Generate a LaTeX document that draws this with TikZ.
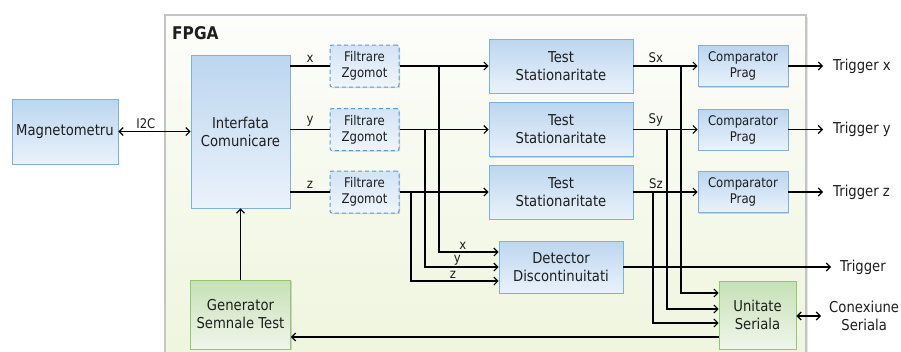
\documentclass[tikz,border=0pt]{standalone}
\usepackage{fontspec}
\setmainfont{DejaVu Sans}[FakeStretch=0.88]
\usetikzlibrary{arrows.meta,shadows,calc}

\definecolor{txt}{HTML}{1E1E1E}
\definecolor{blueTop}{HTML}{BCD6EF}
\definecolor{blueBot}{HTML}{EAF2FB}
\definecolor{blueLine}{HTML}{7EB1E3}
\definecolor{dashLine}{HTML}{5B9BD5}
\definecolor{fltTop}{HTML}{D3E4F5}
\definecolor{fltBot}{HTML}{EFF5FC}
\definecolor{greenTop}{HTML}{C6E1B6}
\definecolor{greenBot}{HTML}{EFF6EB}
\definecolor{greenLine}{HTML}{92C86E}
\definecolor{fpgaTop}{HTML}{FDFDFB}
\definecolor{fpgaBot}{HTML}{EEF5DC}
\definecolor{fpgaLine}{HTML}{C4C4C4}

\newcommand\mainfs{\fontsize{15}{18}\selectfont}
\newcommand\smallfs{\fontsize{13.3}{16}\selectfont}

\tikzset{
  boxshadow/.style={drop shadow={shadow xshift=1.2pt, shadow yshift=-1.2pt, opacity=0.25, fill=black!60}},
  blk/.style={draw=blueLine, line width=0.9pt, top color=blueTop, bottom color=blueBot,
    boxshadow, align=center, inner sep=0pt, font=\mainfs, text=txt},
  flt/.style={draw=dashLine, line width=1pt, dash pattern=on 4pt off 3pt, rounded corners=2pt,
    top color=fltTop, bottom color=fltBot, boxshadow, align=center, inner sep=0pt,
    font=\smallfs, text=txt, minimum width=69pt, minimum height=42pt},
  cmp/.style={blk, font=\smallfs, minimum width=90pt, minimum height=41pt},
  tst/.style={blk, minimum width=144pt, minimum height=54pt},
  grn/.style={draw=greenLine, line width=0.9pt, top color=greenTop, bottom color=greenBot,
    boxshadow, align=center, inner sep=0pt, font=\mainfs, text=txt},
  conn/.style={line width=1.1pt, draw=black},
  tip/.tip={Straight Barb[length=4pt,width=8pt]},
  arr/.style={conn, -tip},
  darr/.style={conn, tip-tip},
  lbl/.style={font=\smallfs, text=txt, inner sep=1.5pt},
  outlbl/.style={font=\mainfs, text=txt, anchor=west, inner ysep=0pt},
}

\begin{document}
\begin{tikzpicture}[x=1pt, y=-1pt]
\useasboundingbox (0,0) rectangle (901,351);
\clip (0,0) rectangle (901,351);

% FPGA region
\path[draw=fpgaLine, line width=1.4pt, top color=fpgaTop, bottom color=fpgaBot,
  drop shadow={shadow xshift=1.5pt, shadow yshift=-1.5pt, opacity=0.2, fill=black!50}]
  (165,15) rectangle (806,370);
\node[font=\bfseries\fontsize{17.5}{20}\selectfont, text=txt, anchor=west, inner sep=0pt] (fpgalbl) at (172,33) {FPGA};

% blocks
\node[blk, minimum width=106pt, minimum height=65pt] (mag) at (65,131.5) {Magnetometru};
\node[blk, minimum width=99pt, minimum height=153pt] (intf) at (240.5,131.5) {Interfata\\Comunicare};
\node[grn, minimum width=100pt, minimum height=69pt] (gen) at (240.5,314.5) {Generator\\Semnale Test};

\node[flt] (f1) at (364.5,66) {Filtrare\\Zgomot};
\node[flt] (f2) at (364.5,129.5) {Filtrare\\Zgomot};
\node[flt] (f3) at (364.5,192) {Filtrare\\Zgomot};

\node[tst] (t1) at (561,66) {Test\\Stationaritate};
\node[tst] (t2) at (561,129.5) {Test\\Stationaritate};
\node[tst] (t3) at (561,192) {Test\\Stationaritate};

\node[cmp] (c1) at (743,66) {Comparator\\Prag};
\node[cmp] (c2) at (743,129.5) {Comparator\\Prag};
\node[cmp] (c3) at (743,192) {Comparator\\Prag};

\node[blk, minimum width=124pt, minimum height=52pt] (det) at (561,267) {Detector\\Discontinuitati};
\node[grn, minimum width=77pt, minimum height=68pt] (ser) at (757.5,315) {Unitate\\Seriala};

% outputs
\node[outlbl, inner xsep=10pt] (trgx) at (823,66) {Trigger x};
\node[outlbl, inner xsep=10pt] (trgy) at (823,129.5) {Trigger y};
\node[outlbl, inner xsep=10pt] (trgz) at (823,192) {Trigger z};
\node[outlbl, inner xsep=9pt] (trg) at (831,267) {Trigger};
\node[font=\mainfs, text=txt, align=center, anchor=west, inner xsep=8pt, inner ysep=0pt] (conx) at (821,316) {Conexiune\\Seriala};

% magnetometer link
\draw[darr] (mag.east) -- (mag.east -| intf.west) node[lbl, pos=0.38, above=1pt] {I2C};

% interface to filters
\draw[conn] (f1.west -| intf.east) -- (f1.west) node[lbl, midway, above=1pt] {x};
\draw[conn] (f2.west -| intf.east) -- (f2.west) node[lbl, midway, above=1pt] {y};
\draw[conn] (f3.west -| intf.east) -- (f3.west) node[lbl, midway, above=1pt] {z};

% filters to stationarity tests
\draw[arr] (f1.east) -- (t1.west);
\draw[arr] (f2.east) -- (t2.west);
\draw[arr] (f3.east) -- (t3.west);

% branches to discontinuity detector
\coordinate (bx) at (439,66);
\coordinate (by) at (425,129.5);
\coordinate (bz) at (411,192);
\coordinate (dinx) at ($(det.west)+(0,-15)$);
\coordinate (diny) at (det.west);
\coordinate (dinz) at ($(det.west)+(0,14)$);
\draw[arr] (bx) |- (dinx) node[lbl, pos=0.7, above=0pt] {x};
\draw[arr] (by) |- (diny) node[lbl, pos=0.72, above=0pt] {y};
\draw[arr] (bz) |- (dinz) node[lbl, pos=0.74, above=0pt] {z};

% tests to comparators
\draw[arr] (t1.east) -- (c1.west) node[lbl, pos=0.35, above=1pt] {Sx};
\draw[arr] (t2.east) -- (c2.west) node[lbl, pos=0.35, above=1pt] {Sy};
\draw[arr] (t3.east) -- (c3.west) node[lbl, pos=0.35, above=1pt] {Sz};

% comparator outputs
\draw[arr] (c1.east) -- (trgx.west);
\draw[arr] (c2.east) -- (trgy.west);
\draw[arr] (c3.east) -- (trgz.west);
\draw[arr] (det.east) -- (trg.west);

% branches to the serial unit
\coordinate (sx) at (681,66);
\coordinate (sy) at (667,129.5);
\coordinate (sz) at (653,192);
\coordinate (sin1) at ($(ser.west)+(0,-22)$);
\coordinate (sin2) at ($(ser.west)+(0,-6)$);
\coordinate (sin3) at ($(ser.west)+(0,8)$);
\coordinate (sout) at ($(ser.west)+(0,22)$);
\draw[arr] (sx) |- (sin1);
\draw[arr] (sy) |- (sin2);
\draw[arr] (sz) |- (sin3);

% serial unit back to the test generator, generator to interface
\draw[arr] (sout) -- (sout -| gen.east);
\draw[arr] (gen.north) -- (intf.south);

% serial connection
\draw[darr] (ser.east |- conx.west) -- (conx.west);
\end{tikzpicture}
\end{document}
